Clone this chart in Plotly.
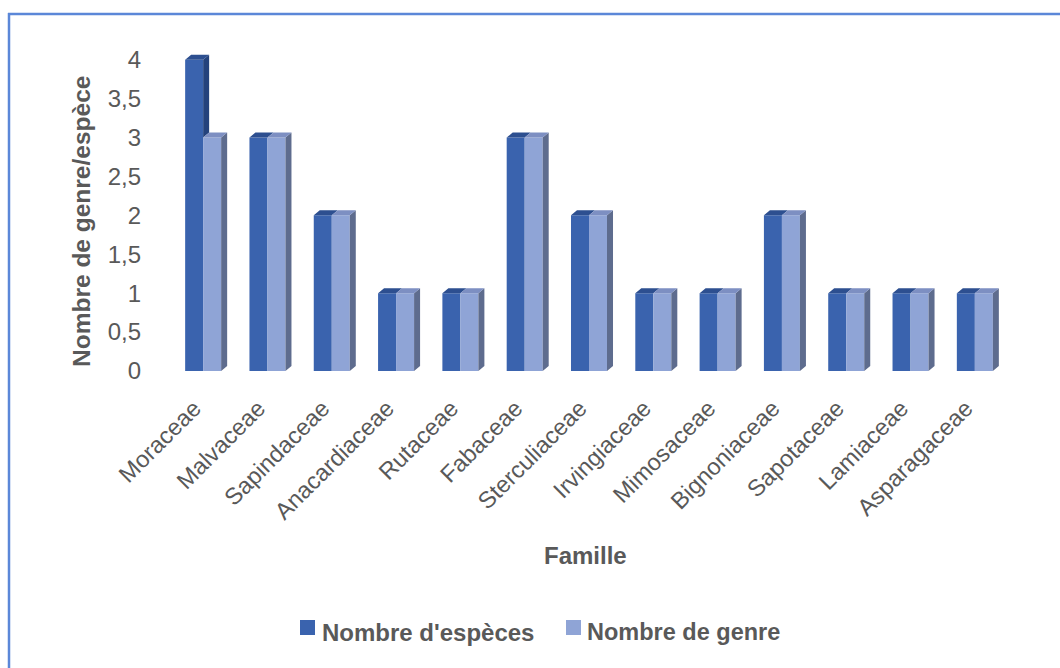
import plotly.graph_objects as go

familles = ["Moraceae", "Malvaceae", "Sapindaceae", "Anacardiaceae", "Rutaceae",
            "Fabaceae", "Sterculiaceae", "Irvingiaceae", "Mimosaceae", "Bignoniaceae",
            "Sapotaceae", "Lamiaceae", "Asparagaceae"]
nb_especes = [4, 3, 2, 1, 1, 3, 2, 1, 1, 2, 1, 1, 1]
nb_genres = [3, 3, 2, 1, 1, 3, 2, 1, 1, 2, 1, 1, 1]
y_ticks = [0, 0.5, 1, 1.5, 2, 2.5, 3, 3.5, 4]
y_ticktext = ["0", "0,5", "1", "1,5", "2", "2,5", "3", "3,5", "4"]

# figure geometry (pixels)
W, H = 1060, 668
ML, MR, MT, MB = 171, 53, 48, 297
PW, PH = W - ML - MR, H - MT - MB
Y_MAX = 4.15

# bar geometry in data units, plus the pseudo-3D depth offsets
BW = 0.28
DX = 6 / (PW / 13)
DY = 5 / (PH / Y_MAX)

DARK = "#3A63AE"
DARK_TOP = "#2D4F90"
DARK_SIDE = "#24427C"
LIGHT = "#8FA4D6"
LIGHT_TOP = "#7D8FC2"
LIGHT_SIDE = "#5E6C8E"
TXT = "#595959"
FONT = "Liberation Sans, Arial, sans-serif"

xs = list(range(len(familles)))


def poly_trace(polys, color):
    px, py = [], []
    for pts in polys:
        for a, b in pts:
            px.append(a)
            py.append(b)
        px.append(pts[0][0])
        py.append(pts[0][1])
        px.append(None)
        py.append(None)
    return go.Scatter(x=px, y=py, mode="lines", fill="toself", fillcolor=color,
                      line=dict(width=0, color=color), hoverinfo="skip",
                      showlegend=False)


dark_top, dark_side, light_top, light_side = [], [], [], []
for i, d, g in zip(xs, nb_especes, nb_genres):
    # top face of the species bar
    dark_top.append([(i - BW, d), (i, d), (i + DX, d + DY), (i - BW + DX, d + DY)])
    # part of the species bar's side that rises above the genus bar
    if d > g:
        dark_side.append([(i, g), (i, d), (i + DX, d + DY), (i + DX, g + DY)])
    # genus bar faces
    light_top.append([(i, g), (i + BW, g), (i + BW + DX, g + DY), (i + DX, g + DY)])
    light_side.append([(i + BW, 0), (i + BW, g), (i + BW + DX, g + DY), (i + BW + DX, DY)])

fig = go.Figure()
fig.add_trace(go.Bar(x=xs, y=nb_especes, width=BW, offset=-BW, name="Nombre d'espèces",
                     marker=dict(color=DARK, line=dict(width=0)), showlegend=False))
fig.add_trace(go.Bar(x=xs, y=nb_genres, width=BW, offset=0, name="Nombre de genre",
                     marker=dict(color=LIGHT, line=dict(width=0)), showlegend=False))
fig.add_trace(poly_trace(dark_side, DARK_SIDE))
fig.add_trace(poly_trace(dark_top, DARK_TOP))
fig.add_trace(poly_trace(light_side, LIGHT_SIDE))
fig.add_trace(poly_trace(light_top, LIGHT_TOP))


def px_x(p):
    return (p - ML) / PW


def px_y(p):
    return (H - MB - p) / PH


shapes = [
    # chart frame (left and top edges)
    dict(type="line", xref="paper", yref="paper", x0=px_x(9), x1=px_x(9),
         y0=px_y(13), y1=px_y(H + 5), line=dict(color="#5B87D8", width=2.5)),
    dict(type="line", xref="paper", yref="paper", x0=px_x(8), x1=px_x(W + 5),
         y0=px_y(14), y1=px_y(14), line=dict(color="#5B87D8", width=2.5)),
    # legend keys
    dict(type="rect", xref="paper", yref="paper", x0=px_x(300), x1=px_x(315),
         y0=px_y(620), y1=px_y(635), fillcolor=DARK, line=dict(width=0)),
    dict(type="rect", xref="paper", yref="paper", x0=px_x(566), x1=px_x(581),
         y0=px_y(620), y1=px_y(635), fillcolor=LIGHT, line=dict(width=0)),
]


def note(text, x, y, size, xanchor="center", angle=0):
    return dict(text=text, xref="paper", yref="paper", x=px_x(x), y=px_y(y),
                xanchor=xanchor, yanchor="middle", textangle=angle, showarrow=False,
                font=dict(family=FONT, size=size, color=TXT))


annotations = [
    note("<b>Nombre de genre/espèce</b>", 81, 222, 24.5, angle=-90),
    note("<b>Famille</b>", 585, 555, 24),
    note("<b>Nombre d'espèces</b>", 320, 632, 24, xanchor="left"),
    note("<b>Nombre de genre</b>", 585, 632, 23.5, xanchor="left"),
]

fig.update_layout(
    width=W, height=H,
    margin=dict(l=ML, r=MR, t=MT, b=MB),
    paper_bgcolor="white", plot_bgcolor="white",
    barmode="overlay",
    showlegend=False,
    shapes=shapes,
    annotations=annotations,
    xaxis=dict(range=[-0.5, 12.5], tickmode="array", tickvals=xs, ticktext=familles,
               tickangle=-45, showgrid=False, zeroline=False, showline=False,
               ticks="", ticklabelshift=-9, ticklabelstandoff=18,
               tickfont=dict(family=FONT, size=23.5, color=TXT)),
    yaxis=dict(range=[0, Y_MAX], tickmode="array", tickvals=y_ticks, ticktext=y_ticktext,
               showgrid=False, zeroline=False, showline=False, ticks="",
               ticklabelstandoff=29, tickfont=dict(family=FONT, size=24, color=TXT)),
)

fig.write_html("out.html")
